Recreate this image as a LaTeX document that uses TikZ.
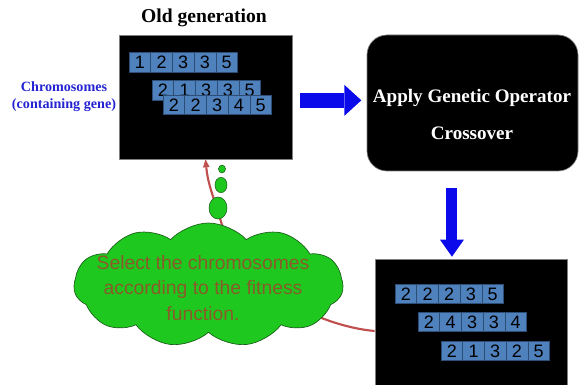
\documentclass[tikz,border=0pt]{standalone}
\usepackage{fontspec}
\setmainfont{Liberation Serif}
\newfontfamily\arialfont{Liberation Sans}
\usetikzlibrary{arrows.meta,positioning,shapes.symbols,shapes.geometric}
\definecolor{boxgray}{HTML}{7F7F7F}
\definecolor{genefill}{HTML}{4F81BD}
\definecolor{geneline}{HTML}{2C4D75}
\definecolor{labelblue}{HTML}{2424D2}
\definecolor{arrowblue}{HTML}{0A0AEB}
\definecolor{cloudgreen}{HTML}{1EC81E}
\definecolor{cloudline}{HTML}{1A5C1A}
\definecolor{cloudtext}{HTML}{8A5A2A}
\definecolor{fitred}{HTML}{C0504D}
\tikzset{
    every picture/.style={line join=round},
    genbox/.style={draw=boxgray,fill=black,line width=0.5pt,inner sep=0pt},
    opbox/.style={genbox,rounded corners=15pt},
    gene/.style={draw=geneline,fill=genefill,line width=0.4pt,
      minimum width=16.3pt,minimum height=14.6pt,inner sep=0pt,
      font=\arialfont\fontsize{13.5}{14}\selectfont},
    flowarrow/.style 2 args={draw=arrowblue,line width=#1,
      -{Triangle[length=12.75pt,width=#2,line width=0pt]}},
    fitline/.style={draw=fitred,line width=1.6pt,
      -{Triangle[length=6pt,width=5pt,line width=0pt]}},
    bubble/.style={ellipse,draw=cloudline,fill=cloudgreen,line width=0.4pt,inner sep=0pt},
    titletext/.style={font=\bfseries\fontsize{14.7}{16}\selectfont},
    optext/.style={text=white,font=\bfseries\fontsize{14.3}{27.75}\selectfont,align=center}
}
\begin{document}
\begin{tikzpicture}[x=0.75pt,y=-0.75pt]
  \useasboundingbox (0,0) rectangle (579,385);

  % old population
  \node[titletext] (oldtitle) at (204,18) {Old generation};
  \node[genbox,minimum width=129.75pt,minimum height=93pt] (oldgen) at (205.5,97) {};
  \node[text=labelblue,align=center,font=\bfseries\fontsize{10.6}{12.75}\selectfont]
    (chromlbl) at (64,97) {Chromosomes\\(containing gene)};
  \foreach \g [count=\i] in {1,2,3,3,5}
    \node[gene] (oa\i) at (129+21.7*\i-10.85,62.5) {\g};
  \foreach \g [count=\i] in {2,1,3,3,5}
    \node[gene] (ob\i) at (152+21.7*\i-10.85,90.5) {\g};
  \foreach \g [count=\i] in {2,2,3,4,5}
    \node[gene] (oc\i) at (163+21.7*\i-10.85,105) {\g};

  % operator
  \node[opbox,minimum width=158.25pt,minimum height=102pt] (opbox) at (472.5,103) {};
  \node[optext] (opname) at (472,114.5) {Apply Genetic Operator\\Crossover};

  % new population
  \node[genbox,minimum width=144pt,minimum height=96pt] (newgen) at (471,323) {};
  \foreach \g [count=\i] in {2,2,2,3,5}
    \node[gene] (na\i) at (395+21.7*\i-10.85,294) {\g};
  \foreach \g [count=\i] in {2,4,3,3,4}
    \node[gene] (nb\i) at (418+21.7*\i-10.85,322) {\g};
  \foreach \g [count=\i] in {2,1,3,2,5}
    \node[gene] (nc\i) at (441+21.7*\i-10.85,351) {\g};

  \draw[flowarrow={11.25pt}{23.25pt}] ([xshift=6pt,yshift=-2.5pt]oldgen.east)
    -- ([xshift=-4pt,yshift=-2.5pt]oldgen.east -| opbox.west);
  \draw[flowarrow={8.25pt}{18pt}] ([xshift=-15.4pt,yshift=-12.75pt]opbox.south)
    -- ([xshift=-15.4pt,yshift=1.5pt]opbox.south |- newgen.north);

  % selection
  \draw[fitline] ([yshift=-6pt]newgen.west) .. controls (318,326) and (238,285) .. (222,225)
    .. controls (214,198) and (208,185) .. (oldgen.south);
  \node[cloud,cloud puffs=11,cloud puff arc=95,aspect=2.15,draw=cloudline,fill=cloudgreen,
    line width=0.5pt,minimum width=202pt,minimum height=93pt] (fitcloud) at (208.5,285) {};
  \node[bubble,minimum width=13.5pt,minimum height=16.5pt] (bub3) at (218,208) {};
  \node[bubble,minimum width=9pt,minimum height=11.5pt] (bub2) at (221,185) {};
  \node[bubble,minimum width=5.3pt,minimum height=6pt] (bub1) at (222,169) {};
  \node[text=cloudtext,align=center,font=\arialfont\fontsize{14.5}{19}\selectfont]
    (cloudlbl) at (203,288) {Select the chromosomes\\according to the fitness\\function.};
\end{tikzpicture}
\end{document}
